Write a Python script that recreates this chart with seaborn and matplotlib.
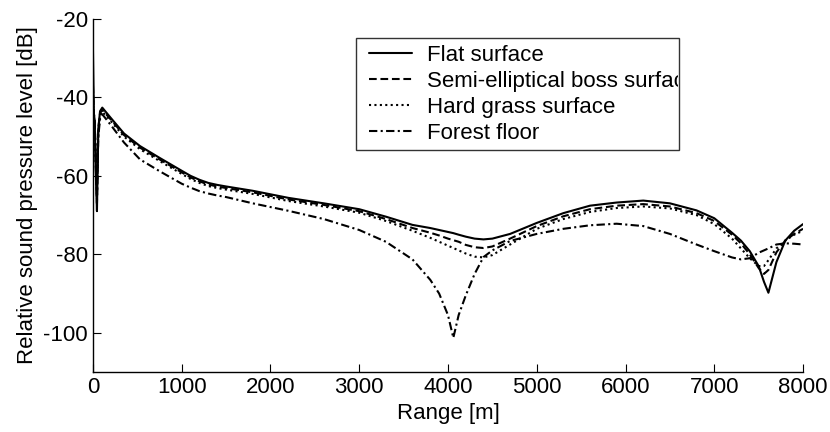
import matplotlib
matplotlib.use("Agg")
import matplotlib.pyplot as plt
import seaborn as sns
import pandas as pd
from matplotlib.lines import Line2D
from matplotlib.legend_handler import HandlerLine2D
from matplotlib.transforms import Bbox, TransformedBbox

# Range [m]
range_m = [0, 10, 20, 30, 45, 60, 80, 105, 200, 350, 530, 750, 1000, 1100,
           1200, 1300, 1400, 1500, 1800, 2200, 2600, 3000, 3300, 3600, 3800,
           3900, 4000, 4060, 4120, 4200, 4300, 4400, 4500, 4700, 5000, 5300,
           5600, 5900, 6200, 6500, 6800, 7000, 7200, 7300, 7400, 7500, 7560,
           7610, 7700, 7800, 7900, 8000]

# Relative sound pressure level [dB] per ground surface
flat_surface = [-28, -44, -46, -58, -69, -48, -43.5, -42.6, -45.2, -49.2, -52.4,
                -55.4, -58.7, -60.0, -61.0, -61.8, -62.3, -62.7, -63.8, -65.6,
                -67, -68.5, -70.4, -72.5, -73.3, -73.8, -74.3, -74.6, -75, -75.5,
                -76, -76.2, -76, -74.8, -72, -69.5, -67.6, -66.8, -66.3, -67,
                -68.8, -70.8, -74.5, -76.5, -79.2, -83, -87, -89.8, -82, -76.5,
                -74, -72.3]

boss_surface = [-37, -44, -46, -56, -67, -48, -44, -43.2, -45.6, -49.6, -52.8,
                -55.8, -59.1, -60.4, -61.4, -62.2, -62.7, -63.1, -64.2, -66,
                -67.4, -69, -71, -73.3, -74.5, -75.2, -76, -76.4, -76.8, -77.6,
                -78.2, -78.4, -78, -76, -72.8, -70.3, -68.5, -67.6, -67.2, -67.8,
                -69.5, -71.5, -75, -77.2, -80, -83.5, -85, -84, -79.5, -76.5,
                -74.8, -73.5]

grass_surface = [-38, -45, -47, -55, -66, -49, -44.5, -43.6, -46, -50, -53.2,
                 -56.2, -59.5, -60.8, -61.8, -62.6, -63.1, -63.5, -64.6, -66.4,
                 -67.8, -69.4, -71.5, -74, -75.8, -76.8, -77.8, -78.4, -79, -79.8,
                 -80.6, -80.8, -80.2, -77.5, -73.5, -71, -69.2, -68.2, -67.8, -68.3,
                 -70, -72.3, -76, -78.5, -81, -83, -83, -81.5, -78.5, -76.5,
                 -75, -74]

forest_floor = [-40, -45, -47, -54, -64, -50, -45.5, -44.3, -47, -51.5, -55.8,
                -58.8, -62, -63, -63.9, -64.5, -65, -65.4, -67, -68.9,
                -71, -73.8, -76.8, -81.3, -86.5, -90, -95.5, -101.3, -95.5, -90.5,
                -85, -80.7, -79, -76.6, -74.8, -73.5, -72.6, -72.2, -72.8, -74.8,
                -77.5, -79.2, -80.8, -81.3, -81, -79.6, -79, -78.5, -77.5, -77.2,
                -77.3, -77.5]

series_labels = ["Flat surface", "Semi-elliptical boss surface",
                 "Hard grass surface", "Forest floor"]
series_values = [flat_surface, boss_surface, grass_surface, forest_floor]

x_ticks = [0, 1000, 2000, 3000, 4000, 5000, 6000, 7000, 8000]
y_ticks = [-100, -80, -60, -40, -20]

sns.set_theme(style="ticks")
plt.rcParams["font.family"] = ["Liberation Sans", "DejaVu Sans"]
plt.rcParams["axes.unicode_minus"] = False
plt.rcParams["xtick.direction"] = "in"
plt.rcParams["ytick.direction"] = "in"
for key in ("text.color", "axes.labelcolor", "xtick.color", "ytick.color",
            "axes.edgecolor"):
    plt.rcParams[key] = "black"

fig = plt.figure(figsize=(8.3, 4.32), dpi=100)
ax = fig.add_axes([0.112, 0.139, 0.8555, 0.817])

dash_styles = ["-", (0, (3.7, 1.8)), (0, (1, 1.6)), (0, (4, 1.6, 1, 1.6))]

for label, values, ls in zip(series_labels, series_values, dash_styles):
    df = pd.DataFrame({"range": range_m, "spl": values})
    sns.lineplot(data=df, x="range", y="spl", ax=ax, color="black",
                 linewidth=1.5, linestyle=ls, label=label)

ax.set_xlim(0, 8000)
ax.set_ylim(-110, -20)
ax.set_xticks(x_ticks)
ax.set_yticks(y_ticks)
ax.tick_params(labelsize=16, length=6, width=0.8, color="black",
               labelcolor="black")
ax.set_xlabel("Range [m]", fontsize=16, labelpad=4)
ax.set_ylabel("Relative sound pressure level [dB]", fontsize=16, labelpad=4)
for side in ("top", "right"):
    ax.spines[side].set_visible(False)
for side in ("left", "bottom"):
    ax.spines[side].set_color("black")
    ax.spines[side].set_linewidth(1.0)

# Fixed-width legend box; long labels are clipped at its border
legend_box = (0.3704, 0.6346, 0.455, 0.311)
leg = ax.legend(loc="upper left", bbox_to_anchor=legend_box,
                mode="expand", borderaxespad=0, fontsize=16, frameon=True,
                fancybox=False, handlelength=2.22, labelspacing=0.22,
                borderpad=0.3, handletextpad=0.68,
                handler_map={Line2D: HandlerLine2D(xpad=0.284)})
leg.get_frame().set_edgecolor("black")
leg.get_frame().set_linewidth(1.0)
x0, y0, w, h = legend_box
clip = TransformedBbox(Bbox([[x0, y0 - 0.05], [x0 + w - 0.002, y0 + h]]),
                       ax.transAxes)
for txt in leg.get_texts():
    txt.set_clip_box(clip)
    txt.set_clip_on(True)

fig.savefig("out.png", dpi=100)
